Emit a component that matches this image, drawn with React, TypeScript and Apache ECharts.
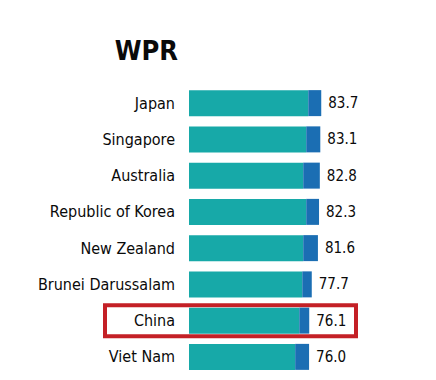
import React, { useEffect, useRef } from "react";
import * as echarts from "echarts";

const categories = [
  "Japan",
  "Singapore",
  "Australia",
  "Republic of Korea",
  "New Zealand",
  "Brunei Darussalam",
  "China",
  "Viet Nam",
];
const totals = [83.7, 83.1, 82.8, 82.3, 81.6, 77.7, 76.1, 76.0];
const baseValues = [75.5, 74.2, 72.3, 74.2, 72.3, 71.7, 69.8, 67.2];
const titleText = "WPR";
const highlighted = "China";

const FONT = "'DejaVu Sans Condensed', 'Liberation Sans Narrow', sans-serif";

export default function App() {
  const ref = useRef<HTMLDivElement>(null);
  useEffect(() => {
    if (!ref.current) return;
    const chart = echarts.init(ref.current, undefined, { renderer: "svg" });
    const topValues = totals.map((t, i) => +(t - baseValues[i]).toFixed(1));
    const titleGraphic = {
      type: "text",
      x: 178,
      y: 37,
      style: {
        text: titleText,
        textAlign: "right",
        textVerticalAlign: "top",
        fontFamily: FONT,
        fontWeight: "bold",
        fontSize: 27,
        fill: "#0a0a0a",
      },
    };
    chart.setOption({
      animation: false,
      backgroundColor: "#ffffff",
      grid: { left: 189, top: 85, width: 158, height: 290, containLabel: false },
      xAxis: { type: "value", min: 0, max: 100, show: false },
      yAxis: {
        type: "category",
        data: categories,
        inverse: true,
        axisLine: { show: false },
        axisTick: { show: false },
        axisLabel: {
          margin: 14,
          color: "#0a0a0a",
          fontFamily: FONT,
          fontSize: 16,
        },
      },
      series: [
        {
          type: "bar",
          stack: "t",
          data: baseValues,
          barWidth: 26,
          itemStyle: { color: "#17a9a8" },
        },
        {
          type: "bar",
          stack: "t",
          data: topValues,
          barWidth: 26,
          itemStyle: { color: "#1b6eb3" },
          label: {
            show: true,
            position: "right",
            distance: 7,
            color: "#0a0a0a",
            fontFamily: FONT,
            fontSize: 15,
            formatter: (p: any) => totals[p.dataIndex].toFixed(1),
          },
        },
      ],
      graphic: [titleGraphic],
    });
    const idx = categories.indexOf(highlighted);
    const cy = chart.convertToPixel({ yAxisIndex: 0 }, idx) as number;
    chart.setOption({
      graphic: [
        titleGraphic,
        {
          type: "rect",
          shape: { x: 105, y: cy - 15.5, width: 251, height: 31 },
          style: { fill: "none", stroke: "#c42026", lineWidth: 4 },
        },
      ],
    });
    return () => chart.dispose();
  }, []);
  return (
    <div
      ref={ref}
      style={{ position: "absolute", left: 0, top: 0, width: 436, height: 380 }}
    />
  );
}
